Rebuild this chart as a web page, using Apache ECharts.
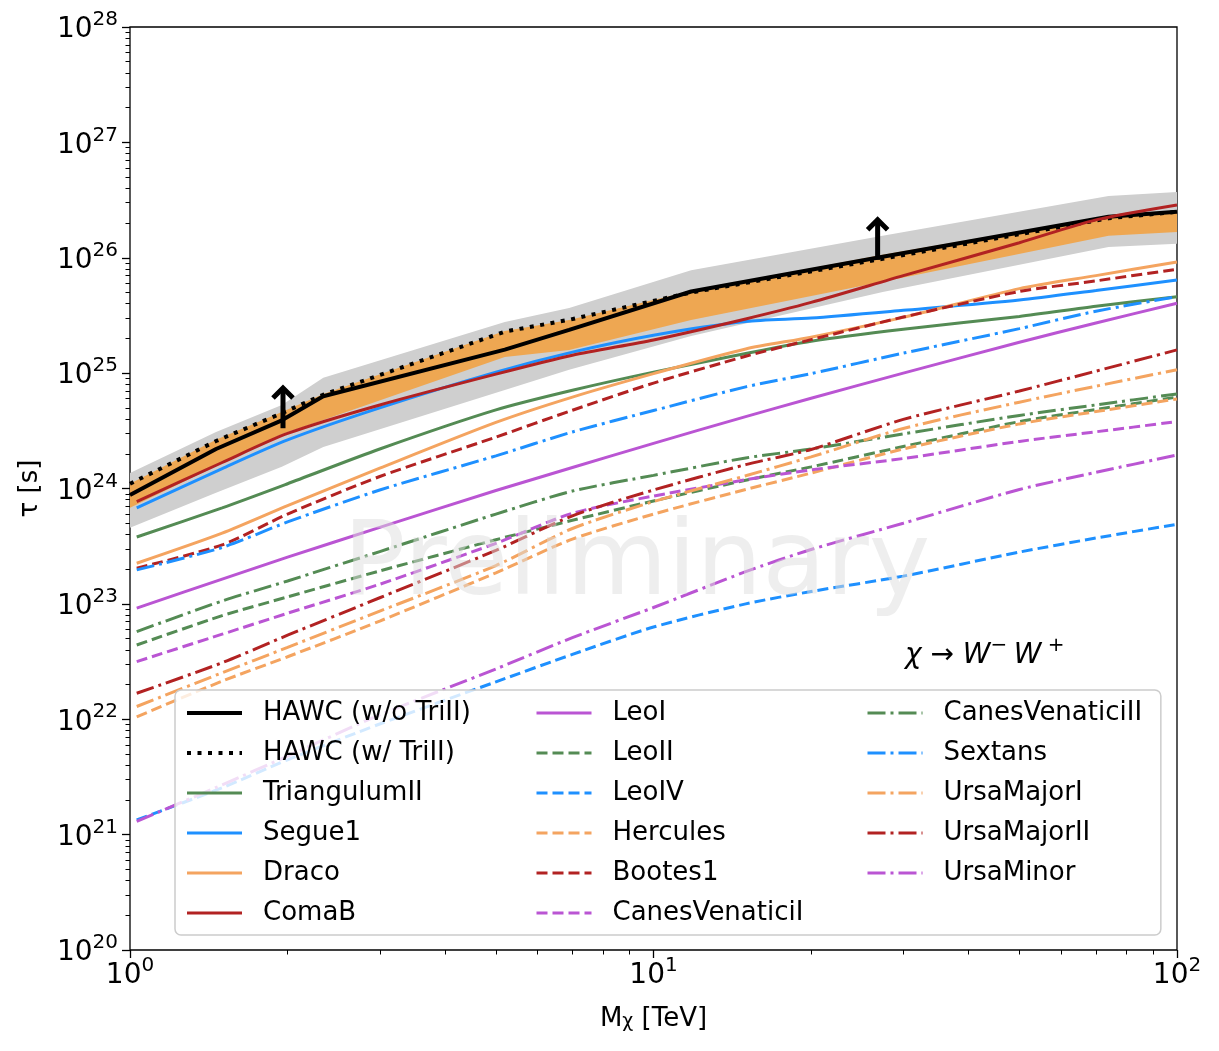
<!DOCTYPE html>
<html lang="en">
<head>
<meta charset="UTF-8">
<title>HAWC dSph lifetime limits</title>
<script src="https://cdn.jsdelivr.net/npm/echarts@6/dist/echarts.min.js"></script>
<style>html, body { margin: 0; padding: 0; background: #fff; }</style>
</head>
<body>
<div id="main" style="width: 1219px; height: 1051px;"></div>
<script>
// masses (TeV) where the dwarf curves were read
const dwarfMass = [1.03, 1.5, 2, 3, 5, 7, 10, 15, 20, 30, 50, 70, 100];

// lifetime limits tau [s] per dwarf
const triangulumII = [3.8e23, 6.8e23, 1.1e24, 2.2e24, 4.8e24, 7.1e24, 1.02e25, 1.48e25, 1.89e25, 2.4e25, 3.1e25, 3.8e25, 4.6e25];
const segue1 = [6.8e23, 1.49e24, 2.64e24, 5.0e24, 1.02e25, 1.52e25, 2.13e25, 2.8e25, 3.0e25, 3.5e25, 4.3e25, 5.2e25, 6.4e25];
const draco = [2.25e23, 4.1e23, 7.1e23, 1.5e24, 3.74e24, 6.2e24, 9.9e24, 1.62e25, 2.05e25, 3.04e25, 5.4e25, 7.0e25, 9.2e25];
const comaB = [7.7e23, 1.68e24, 3.0e24, 5.3e24, 9.8e24, 1.43e25, 1.94e25, 2.95e25, 4.1e25, 7.0e25, 1.35e26, 2.13e26, 2.87e26];
const leoI = [9.2e22, 1.64e23, 2.54e23, 4.6e23, 9.6e23, 1.52e24, 2.46e24, 4.2e24, 6.05e24, 1.0e25, 1.85e25, 2.72e25, 4.03e25];
const leoII = [4.4e22, 7.9e22, 1.15e23, 1.93e23, 3.6e23, 5.3e23, 7.8e23, 1.18e24, 1.54e24, 2.31e24, 3.8e24, 4.84e24, 6.2e24];
const leoIV = [1.34e21, 2.55e21, 4.45e21, 9.1e21, 2.11e22, 3.65e22, 6.3e22, 1.0e23, 1.28e23, 1.74e23, 2.81e23, 3.72e23, 4.9e23];
const hercules = [1.05e22, 2.14e22, 3.48e22, 7.1e22, 1.86e23, 3.64e23, 6.0e23, 9.8e23, 1.36e24, 2.2e24, 3.63e24, 4.64e24, 5.97e24];
const bootes1 = [2.04e23, 3.25e23, 6.0e23, 1.27e24, 2.79e24, 4.77e24, 8.2e24, 1.4e25, 1.95e25, 3.06e25, 5.1e25, 6.3e25, 7.95e25];
const canesVenaticiI = [3.16e22, 5.46e22, 8.3e22, 1.48e23, 3.35e23, 6.1e23, 8.6e23, 1.19e24, 1.45e24, 1.82e24, 2.56e24, 3.1e24, 3.8e24];
const canesVenaticiII = [5.75e22, 1.06e23, 1.58e23, 2.84e23, 6.0e23, 9.5e23, 1.3e24, 1.84e24, 2.2e24, 2.97e24, 4.3e24, 5.3e24, 6.6e24];
const sextans = [1.97e23, 3.08e23, 5.13e23, 9.7e23, 1.92e24, 3.09e24, 4.74e24, 7.6e24, 9.9e24, 1.49e25, 2.43e25, 3.44e25, 4.6e25];
const ursaMajorI = [1.29e22, 2.53e22, 4.2e22, 8.65e22, 2.15e23, 4.5e23, 7.7e23, 1.29e24, 1.88e24, 3.31e24, 5.6e24, 7.7e24, 1.07e25];
const ursaMajorII = [1.68e22, 3.09e22, 5.35e22, 1.13e23, 2.91e23, 5.8e23, 9.7e23, 1.61e24, 2.18e24, 3.97e24, 7.0e24, 1.04e25, 1.59e25];
const ursaMinor = [1.3e21, 2.7e21, 4.8e21, 1.09e22, 2.73e22, 5.1e22, 9.3e22, 1.9e23, 2.96e23, 5.0e23, 9.8e23, 1.38e24, 1.95e24];

// combined HAWC limits and expectation bands
const hawcMass = [1.0, 1.46, 1.95, 2.34, 5.2, 6.9, 11.8, 27.4, 74, 100];
const hawcNoTri = [8.8e23, 2.2e24, 3.9e24, 6.3e24, 1.6e25, 2.37e25, 5.1e25, 1.02e26, 2.27e26, 2.5e26];
const hawcWithTri = [1.1e24, 2.58e24, 4.5e24, 6.5e24, 2.29e25, 2.9e25, 5.0e25, 9.8e25, 2.2e26, 2.5e26];
const band1Hi = [1.1e24, 2.64e24, 4.61e24, 6.6e24, 2.32e25, 2.89e25, 5.15e25, 1.06e26, 2.3e26, 2.5e26];
const band1Lo = [6.8e23, 1.57e24, 2.97e24, 3.93e24, 1.38e25, 1.59e25, 2.89e25, 6.2e25, 1.55e26, 1.67e26];
const band2Hi = [1.36e24, 3.09e24, 5.3e24, 9.1e24, 2.78e25, 3.67e25, 7.8e25, 1.55e26, 3.43e26, 3.72e26];
const band2Lo = [4.56e23, 9.2e23, 1.54e24, 2.29e24, 7.15e24, 1.07e25, 2.1e25, 5.06e25, 1.24e26, 1.32e26];

// lower-limit arrows
const arrowMass = [1.96, 26.8];
const arrowBase = [3.33e24, 9.6e25];
const arrowTip = [7.9e24, 2.27e26];

// ticks
const xMajor = [1, 10, 100];
const yMajor = [1e20, 1e21, 1e22, 1e23, 1e24, 1e25, 1e26, 1e27, 1e28];
const xMinor = [];
for (let d = 1; d <= 10; d *= 10) for (let k = 2; k <= 9; k++) xMinor.push(k * d);
const yMinor = [];
for (let e = 20; e < 28; e++) for (let k = 2; k <= 9; k++) yMinor.push(k * Math.pow(10, e));

const FONT = 'DejaVu Sans';
const GREEN = '#548b54', BLUE = '#1e90ff', ORANGE = '#f4a460', RED = '#b22222', PURPLE = '#ba55d3';
const SOLID = 'solid', DASH = [11, 5], DASHDOT = [18, 5, 3, 5];

const dwarfs = [
    ['TriangulumII', triangulumII, GREEN, SOLID],
    ['Segue1', segue1, BLUE, SOLID],
    ['Draco', draco, ORANGE, SOLID],
    ['ComaB', comaB, RED, SOLID],
    ['LeoI', leoI, PURPLE, SOLID],
    ['LeoII', leoII, GREEN, DASH],
    ['LeoIV', leoIV, BLUE, DASH],
    ['Hercules', hercules, ORANGE, DASH],
    ['Bootes1', bootes1, RED, DASH],
    ['CanesVenaticiI', canesVenaticiI, PURPLE, DASH],
    ['CanesVenaticiII', canesVenaticiII, GREEN, DASHDOT],
    ['Sextans', sextans, BLUE, DASHDOT],
    ['UrsaMajorI', ursaMajorI, ORANGE, DASHDOT],
    ['UrsaMajorII', ursaMajorII, RED, DASHDOT],
    ['UrsaMinor', ursaMinor, PURPLE, DASHDOT]
];

function zip(xs, ys) { return xs.map((x, i) => [x, ys[i]]); }

function powLabel(v) {
    return '{b|10}{sup|' + Math.round(Math.log10(v)) + '}';
}
const tickRich = {
    b: { fontFamily: FONT, fontSize: 28, lineHeight: 34, verticalAlign: 'bottom', color: '#000' },
    sup: { fontFamily: FONT, fontSize: 20, lineHeight: 16, verticalAlign: 'top', color: '#000' }
};

function bandSeries(name, lo, hi, color) {
    return {
        type: 'custom', name: name, silent: true,
        encode: { x: 0, y: [1, 2] },
        data: hawcMass.map((m, i) => [m, lo[i], hi[i]]),
        renderItem: function (params, api) {
            if (params.dataIndex !== 0) return null;
            const top = hawcMass.map((m, i) => api.coord([m, hi[i]]));
            const bottom = hawcMass.map((m, i) => api.coord([m, lo[i]])).reverse();
            return { type: 'polygon', shape: { points: top.concat(bottom) }, style: { fill: color } };
        }
    };
}

const series = [
    bandSeries('band2', band2Lo, band2Hi, '#cfcfcf'),
    bandSeries('band1', band1Lo, band1Hi, '#eea752'),
    {
        name: 'HAWC (w/o TriII)', type: 'line', data: zip(hawcMass, hawcNoTri),
        symbol: 'none', lineStyle: { color: '#000', width: 4 }, itemStyle: { color: '#000' }
    },
    {
        name: 'HAWC (w/ TriII)', type: 'line', data: zip(hawcMass, hawcWithTri),
        symbol: 'none', lineStyle: { color: '#000', width: 4, type: [4, 6.5] }, itemStyle: { color: '#000' }
    }
];
dwarfs.forEach(function (d) {
    series.push({
        name: d[0], type: 'line', data: zip(dwarfMass, d[1]), symbol: 'none',
        smooth: 0.25,
        lineStyle: { color: d[2], width: 3, type: d[3] }, itemStyle: { color: d[2] }
    });
});
series.push({
    type: 'custom', name: 'arrows', silent: true,
    encode: { x: 0, y: [1, 2] },
    data: arrowMass.map((m, i) => [m, arrowBase[i], arrowTip[i]]),
    renderItem: function (params, api) {
        const base = api.coord([api.value(0), api.value(1)]);
        const tip = api.coord([api.value(0), api.value(2)]);
        return {
            type: 'group', children: [
                { type: 'line', shape: { x1: base[0], y1: base[1], x2: tip[0], y2: tip[1] + 3 }, style: { stroke: '#000', lineWidth: 5 } },
                { type: 'polyline', shape: { points: [[tip[0] - 10, tip[1] + 13], [tip[0], tip[1] + 3], [tip[0] + 10, tip[1] + 13]] },
                  style: { stroke: '#000', lineWidth: 5, fill: null, lineJoin: 'miter' } }
            ]
        };
    }
});

const legendCols = [
    ['HAWC (w/o TriII)', 'HAWC (w/ TriII)', 'TriangulumII', 'Segue1', 'Draco', 'ComaB'],
    ['LeoI', 'LeoII', 'LeoIV', 'Hercules', 'Bootes1', 'CanesVenaticiI'],
    ['CanesVenaticiII', 'Sextans', 'UrsaMajorI', 'UrsaMajorII', 'UrsaMinor']
];
const legendLeft = [175, 535, 866];
const legends = legendCols.map(function (names, i) {
    const lg = {
        data: names, orient: 'vertical', left: legendLeft[i], top: i === 0 ? 690 : 700,
        itemWidth: 55, itemHeight: 14, itemGap: 14, selectedMode: false,
        lineStyle: { width: 'inherit' },
        itemStyle: { opacity: 0 },
        textStyle: { fontFamily: FONT, fontSize: 26, color: '#000', padding: [0, 0, 0, 16] },
        padding: 0
    };
    if (i === 0) {
        lg.padding = [10, 690, 9, 10];
        lg.backgroundColor = 'rgba(255,255,255,0.8)';
        lg.borderColor = '#cccccc';
        lg.borderWidth = 1.5;
        lg.borderRadius = 6;
    }
    return lg;
});

const axisCommon = { type: 'log', logBase: 10, splitLine: { show: false }, axisLine: { show: false } };

const option = {
    animation: false,
    backgroundColor: '#fff',
    grid: { left: 130, right: 42, top: 27, bottom: 101, show: true, borderColor: '#000', borderWidth: 1.3, backgroundColor: 'transparent' },
    legend: legends,
    xAxis: [
        Object.assign({}, axisCommon, {
            min: 1, max: 100, position: 'bottom',
            axisTick: { customValues: xMajor, length: 8, lineStyle: { color: '#000', width: 1.3 } },
            axisLabel: { customValues: xMajor, formatter: powLabel, rich: tickRich, margin: 6 },
            name: '{b|M}{sub|χ}{b| [TeV]}', nameLocation: 'middle', nameGap: 53,
            nameTextStyle: {
                rich: {
                    b: { fontFamily: FONT, fontSize: 26, lineHeight: 26, verticalAlign: 'top', color: '#000' },
                    sub: { fontFamily: FONT, fontSize: 19, lineHeight: 18, padding: [18, 0, 0, 0], verticalAlign: 'bottom', color: '#000' }
                }
            }
        }),
        Object.assign({}, axisCommon, {
            min: 1, max: 100, position: 'bottom',
            axisTick: { customValues: xMinor, length: 4.5, lineStyle: { color: '#000', width: 1 } },
            axisLabel: { show: false }
        })
    ],
    yAxis: [
        Object.assign({}, axisCommon, {
            min: 1e20, max: 1e28, position: 'left',
            axisTick: { customValues: yMajor, length: 8, lineStyle: { color: '#000', width: 1.3 } },
            axisLabel: { customValues: yMajor, formatter: powLabel, rich: tickRich, margin: 12 },
            name: 'τ [s]', nameLocation: 'middle', nameGap: 87, nameRotate: 90,
            nameTextStyle: { fontFamily: FONT, fontSize: 26, color: '#000' }
        }),
        Object.assign({}, axisCommon, {
            min: 1e20, max: 1e28, position: 'left',
            axisTick: { customValues: yMinor, length: 4.5, lineStyle: { color: '#000', width: 1 } },
            axisLabel: { show: false }
        })
    ],
    graphic: [
        {
            type: 'text', left: 343, top: 515, z: 100, silent: true,
            style: { text: 'Preliminary', font: '104px "DejaVu Sans"', lineHeight: 104, fill: 'rgba(222,222,222,0.5)' }
        },
        {
            type: 'text', left: 905, top: 636, z: 100, silent: true,
            style: {
                text: '{a|χ }{o|→ }{a|W}{s|− }{a|W}{s| +}',
                rich: {
                    a: { fontFamily: FONT, fontSize: 28, fontStyle: 'italic', lineHeight: 34, verticalAlign: 'bottom', fill: '#000' },
                    o: { fontFamily: FONT, fontSize: 28, lineHeight: 34, verticalAlign: 'bottom', fill: '#000' },
                    s: { fontFamily: FONT, fontSize: 20, lineHeight: 16, verticalAlign: 'top', fill: '#000' }
                }
            }
        }
    ],
    series: series
};

const chart = echarts.init(document.getElementById('main'));
chart.setOption(option);
</script>
</body>
</html>
